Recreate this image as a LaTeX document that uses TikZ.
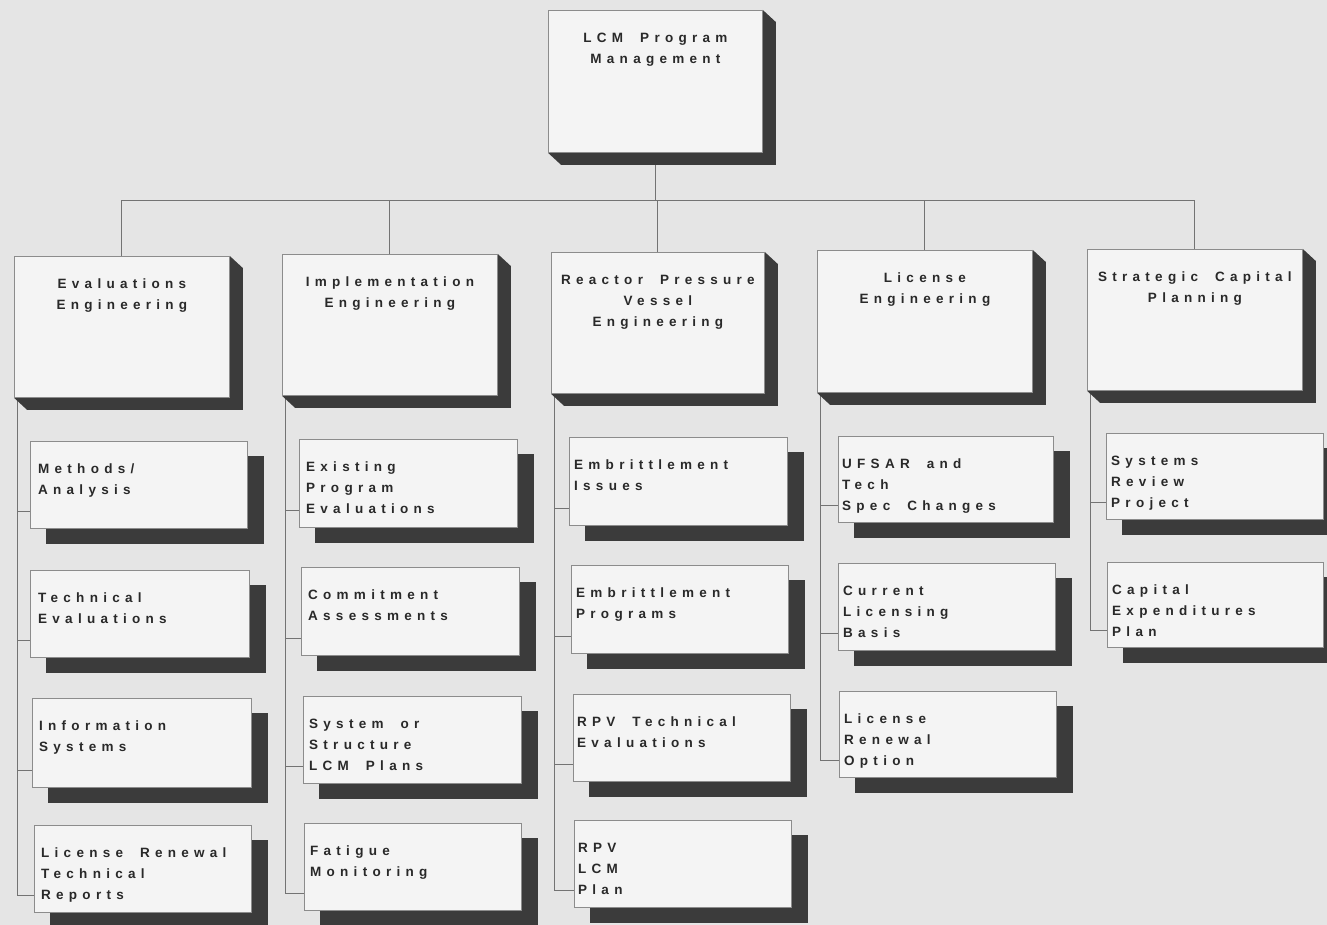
\documentclass[tikz,border=0pt]{standalone}
\usepackage{fontspec}
\setmainfont{Liberation Sans}
\newfontfamily\orgfont{Liberation Sans}[LetterSpace=39]
\usetikzlibrary{backgrounds}
\definecolor{paper}{gray}{0.90}
\definecolor{boxfill}{gray}{0.955}
\definecolor{boxline}{gray}{0.55}
\definecolor{shadowc}{gray}{0.23}
\definecolor{wire}{gray}{0.45}
\definecolor{ink}{gray}{0.16}

% extruded shade for department boxes, flat offset shade for task boxes
\newcommand\extrusion[1]{\fill[shadowc] (#1.north east) -- ++(13,12) -- ([shift={(13,12)}]#1.south east) -- ([shift={(13,12)}]#1.south west) -- (#1.south west) -- cycle;}
\newcommand\dropshade[1]{\fill[shadowc] ([shift={(16,15)}]#1.north west) rectangle ([shift={(16,15)}]#1.south east);}
\newcommand\orgtext{\orgfont\bfseries\fontsize{13.5}{21}\selectfont\spaceskip=17pt\relax}

\begin{document}
\begin{tikzpicture}[x=1pt,y=-1pt,
  unit/.style={draw=boxline, fill=boxfill, line width=0.8pt, inner sep=0pt, anchor=north west},
  headtext/.style={anchor=north, align=center, inner sep=0pt, text=ink, font=\orgtext},
  itemtext/.style={anchor=north west, align=left, inner sep=0pt, text=ink, font=\orgtext},
  link/.style={draw=wire, line width=0.9pt},
]
\useasboundingbox (0,0) rectangle (1327,925);

% ---- top level
\node[unit, minimum width=214pt, minimum height=142pt] (top) at (548,10) {};
\node[headtext] (topt) at ([yshift=-23pt]top.north) {LCM Program\\Management};

% ---- departments
\node[unit, minimum width=215pt, minimum height=141pt] (c1) at (14,256) {};
\node[unit, minimum width=215pt, minimum height=141pt] (c2) at (282,254) {};
\node[unit, minimum width=213pt, minimum height=141pt] (c3) at (551,252) {};
\node[unit, minimum width=215pt, minimum height=142pt] (c4) at (817,250) {};
\node[unit, minimum width=215pt, minimum height=141pt] (c5) at (1087,249) {};
\node[headtext] (c1t) at ([yshift=-23pt]c1.north) {Evaluations\\Engineering};
\node[headtext] (c2t) at ([yshift=-23pt]c2.north) {Implementation\\Engineering};
\node[headtext] (c3t) at ([yshift=-23pt]c3.north) {Reactor Pressure\\Vessel\\Engineering};
\node[headtext] (c4t) at ([yshift=-23pt]c4.north) {License\\Engineering};
\node[headtext] (c5t) at ([yshift=-23pt]c5.north) {Strategic Capital\\Planning};

% ---- tasks: Evaluations Engineering
\node[unit, minimum width=217pt, minimum height=87pt] (a1) at (30,441) {};
\node[unit, minimum width=219pt, minimum height=87pt] (a2) at (30,570) {};
\node[unit, minimum width=219pt, minimum height=89pt] (a3) at (32,698) {};
\node[unit, minimum width=217pt, minimum height=87pt] (a4) at (34,825) {};
\node[itemtext] (a1t) at ([shift={(8,23)}]a1.north west) {Methods/\\Analysis};
\node[itemtext] (a2t) at ([shift={(8,23)}]a2.north west) {Technical\\Evaluations};
\node[itemtext] (a3t) at ([shift={(7,23)}]a3.north west) {Information\\Systems};
\node[itemtext] (a4t) at ([shift={(7,23)}]a4.north west) {License Renewal\\Technical\\Reports};

% ---- tasks: Implementation Engineering
\node[unit, minimum width=218pt, minimum height=88pt] (b1) at (299,439) {};
\node[unit, minimum width=218pt, minimum height=88pt] (b2) at (301,567) {};
\node[unit, minimum width=218pt, minimum height=87pt] (b3) at (303,696) {};
\node[unit, minimum width=217pt, minimum height=87pt] (b4) at (304,823) {};
\node[itemtext] (b1t) at ([shift={(7,23)}]b1.north west) {Existing\\Program\\Evaluations};
\node[itemtext] (b2t) at ([shift={(7,23)}]b2.north west) {Commitment\\Assessments};
\node[itemtext] (b3t) at ([shift={(6,23)}]b3.north west) {System or\\Structure\\LCM Plans};
\node[itemtext] (b4t) at ([shift={(6,23)}]b4.north west) {Fatigue\\Monitoring};

% ---- tasks: Reactor Pressure Vessel Engineering
\node[unit, minimum width=218pt, minimum height=88pt] (d1) at (569,437) {};
\node[unit, minimum width=217pt, minimum height=88pt] (d2) at (571,565) {};
\node[unit, minimum width=217pt, minimum height=87pt] (d3) at (573,694) {};
\node[unit, minimum width=217pt, minimum height=87pt] (d4) at (574,820) {};
\node[itemtext] (d1t) at ([shift={(5,23)}]d1.north west) {Embrittlement\\Issues};
\node[itemtext] (d2t) at ([shift={(5,23)}]d2.north west) {Embrittlement\\Programs};
\node[itemtext] (d3t) at ([shift={(4,23)}]d3.north west) {RPV Technical\\Evaluations};
\node[itemtext] (d4t) at ([shift={(4,23)}]d4.north west) {RPV\\LCM\\Plan};

% ---- tasks: License Engineering
\node[unit, minimum width=215pt, minimum height=86pt] (e1) at (838,436) {};
\node[unit, minimum width=217pt, minimum height=87pt] (e2) at (838,563) {};
\node[unit, minimum width=217pt, minimum height=86pt] (e3) at (839,691) {};
\node[itemtext] (e1t) at ([shift={(4,23)}]e1.north west) {UFSAR and\\Tech\\Spec Changes};
\node[itemtext] (e2t) at ([shift={(5,23)}]e2.north west) {Current\\Licensing\\Basis};
\node[itemtext] (e3t) at ([shift={(5,23)}]e3.north west) {License\\Renewal\\Option};

% ---- tasks: Strategic Capital Planning
\node[unit, minimum width=217pt, minimum height=86pt] (f1) at (1106,433) {};
\node[unit, minimum width=216pt, minimum height=85pt] (f2) at (1107,562) {};
\node[itemtext] (f1t) at ([shift={(5,23)}]f1.north west) {Systems\\Review\\Project};
\node[itemtext] (f2t) at ([shift={(5,23)}]f2.north west) {Capital\\Expenditures\\Plan};

\begin{scope}[on background layer]
  \fill[paper] (0,0) rectangle (1327,925);

  % top bus
  \coordinate (bus) at (0,200);
  \draw[link] (top.south) -- (top.south |- bus);
  \draw[link] (c1.north) -- (c1.north |- bus) -- (c5.north |- bus) -- (c5.north);
  \foreach \c in {c2,c3,c4} \draw[link] (\c.north) -- (\c.north |- bus);

  % column spines with branches
  \foreach \c/\first/\last in {c1/a/4, c2/b/4, c3/d/4, c4/e/3, c5/f/2}{
    \coordinate (\c-spine) at ([xshift=3pt]\c.south west);
    \foreach \i in {1,...,\last}{
      \coordinate (\first\i-in) at ([yshift=17pt]\first\i.south west);
    }
    \draw[link] (\c-spine) |- (\first\last-in);
    \foreach \i in {1,...,\last}{
      \draw[link] (\c-spine |- \first\i-in) -- (\first\i-in);
    }
  }

  % shades
  \foreach \n in {top,c1,c2,c3,c4,c5} {\extrusion{\n}}
  \foreach \n in {a1,a2,a3,a4,b1,b2,b3,b4,d1,d2,d3,d4,e1,e2,e3,f1,f2} {\dropshade{\n}}
\end{scope}
\end{tikzpicture}
\end{document}
